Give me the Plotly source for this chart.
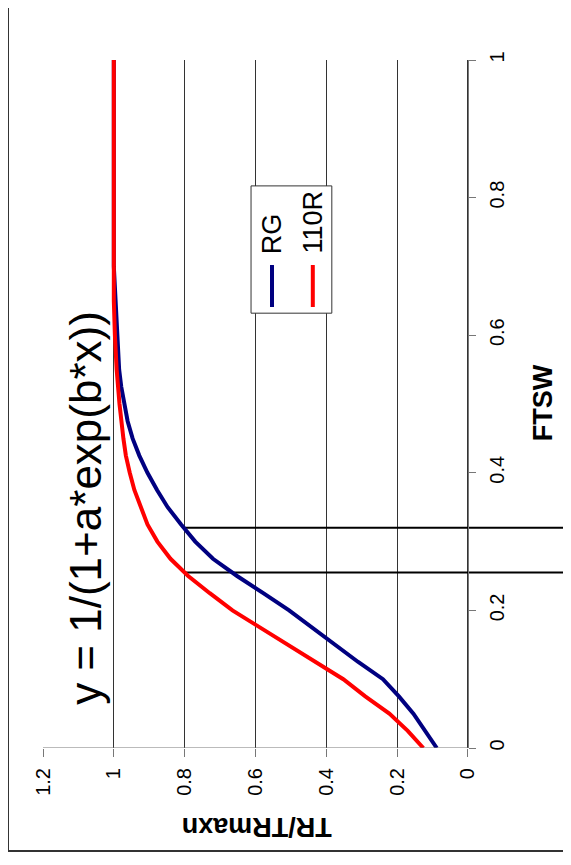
import plotly.graph_objects as go

# FTSW values (vertical axis in the rotated chart)
ftsw = [0, 0.025, 0.05, 0.075, 0.1, 0.125, 0.15, 0.175, 0.2, 0.225, 0.25, 0.275,
        0.3, 0.325, 0.35, 0.375, 0.4, 0.425, 0.45, 0.475, 0.5, 0.525, 0.55, 0.6,
        0.65, 0.7, 0.8, 0.9, 1.0]

# TR/TRmaxn for RG
tr_rg = [0.088, 0.12, 0.154, 0.195, 0.24, 0.31, 0.375, 0.44, 0.505, 0.578, 0.652, 0.72,
         0.77, 0.81, 0.848, 0.878, 0.905, 0.928, 0.947, 0.961, 0.971, 0.979, 0.985, 0.99,
         0.995, 1.0, 1.0, 1.0, 1.0]

# TR/TRmaxn for 110R
tr_110r = [0.126, 0.17, 0.222, 0.29, 0.352, 0.43, 0.51, 0.59, 0.665, 0.729, 0.79, 0.84,
           0.877, 0.905, 0.925, 0.942, 0.955, 0.966, 0.973, 0.979, 0.984, 0.988, 0.992, 0.997,
           1.0, 1.0, 1.0, 1.0, 1.0]

# FTSW thresholds at TR = 0.8 (drop lines)
threshold_tr = 0.8
threshold_ftsw = [0.32, 0.255]
dropline_end_tr = -0.3

x_ticks = [0, 0.2, 0.4, 0.6, 0.8, 1.0, 1.2]
x_ticktext = ["0", "0.2", "0.4", "0.6", "0.8", "1", "1.2"]
y_ticks = [0, 0.2, 0.4, 0.6, 0.8, 1.0]
y_ticktext = ["0", "0.2", "0.4", "0.6", "0.8", "1"]

FONT = "Arial, Liberation Sans, sans-serif"

fig = go.Figure()

# drop lines
for f in threshold_ftsw:
    fig.add_trace(go.Scatter(x=[threshold_tr, dropline_end_tr], y=[f, f], mode="lines",
                             line=dict(color="black", width=2), showlegend=False,
                             hoverinfo="skip"))

fig.add_trace(go.Scatter(x=tr_rg, y=ftsw, mode="lines", name="RG",
                         line=dict(color="#000080", width=4), showlegend=False))
fig.add_trace(go.Scatter(x=tr_110r, y=ftsw, mode="lines", name="110R",
                         line=dict(color="#FF0000", width=4), showlegend=False))

shapes = [
    # x-axis line (TR axis) from 1.2 to 0 at FTSW 0
    dict(type="line", xref="x", yref="y", x0=1.2, x1=0, y0=0, y1=0,
         line=dict(color="#777777", width=1), layer="above"),
    # chart frame
    dict(type="line", xref="paper", yref="paper", x0=-0.0663, x1=-0.0663, y0=-0.1497, y1=1.1,
         line=dict(color="#333333", width=2)),
    dict(type="line", xref="paper", yref="paper", x0=-0.0663, x1=1.05, y0=-0.1497, y1=-0.1497,
         line=dict(color="#333333", width=2)),
    # legend box
    dict(type="rect", xref="paper", yref="paper", x0=0.394, x1=0.547, y0=0.632, y1=0.817,
         line=dict(color="#333333", width=1), fillcolor="white", layer="above"),
    # legend samples
    dict(type="line", xref="paper", yref="paper", x0=0.4337, x1=0.4337, y0=0.641, y1=0.702,
         line=dict(color="#000080", width=4), layer="above"),
    dict(type="line", xref="paper", yref="paper", x0=0.511, x1=0.511, y0=0.641, y1=0.702,
         line=dict(color="#FF0000", width=4), layer="above"),
]

annotations = [
    dict(text="y = 1/(1+a*exp(b*x))", xref="paper", yref="paper", x=0.0814, y=0.349,
         textangle=-90, showarrow=False, font=dict(family=FONT, size=44, color="black"),
         xanchor="center", yanchor="middle"),
    dict(text="<b>FTSW</b>", xref="paper", yref="paper", x=0.947, y=0.501,
         textangle=-90, showarrow=False, font=dict(family=FONT, size=27, color="black"),
         xanchor="center", yanchor="middle"),
    dict(text="<b>TR/TRmaxn</b>", xref="paper", yref="paper", x=0.405, y=-0.1148,
         textangle=180, showarrow=False, font=dict(family=FONT, size=27, color="black"),
         xanchor="center", yanchor="middle"),
    dict(text="RG", xref="paper", yref="paper", x=0.4337, y=0.748,
         textangle=-90, showarrow=False, font=dict(family=FONT, size=27, color="black"),
         xanchor="center", yanchor="middle"),
    dict(text="110R", xref="paper", yref="paper", x=0.511, y=0.765,
         textangle=-90, showarrow=False, font=dict(family=FONT, size=27, color="black"),
         xanchor="center", yanchor="middle"),
]

fig.update_layout(
    width=563, height=857,
    margin=dict(l=35, r=0, t=52, b=117),
    paper_bgcolor="white", plot_bgcolor="white",
    showlegend=False,
    font=dict(family=FONT, color="black"),
    shapes=shapes, annotations=annotations,
    xaxis=dict(range=[1.2, -0.291], tickvals=x_ticks, ticktext=x_ticktext,
               tickangle=-90, ticks="outside", ticklen=8, tickcolor="#777777",
               ticklabelstandoff=3,
               showgrid=True, gridcolor="#333333", gridwidth=1, zeroline=False,
               showline=False, tickfont=dict(family=FONT, size=20, color="black")),
    yaxis=dict(range=[0, 1], tickvals=y_ticks, ticktext=y_ticktext,
               anchor="free", position=0.805, side="right",
               tickangle=-90, ticks="outside", ticklen=7, tickcolor="#777777",
               ticklabelstandoff=4,
               showgrid=False, zeroline=False, showline=True, linecolor="#777777",
               linewidth=1, tickfont=dict(family=FONT, size=20, color="black")),
)

fig.write_html("out.html")
